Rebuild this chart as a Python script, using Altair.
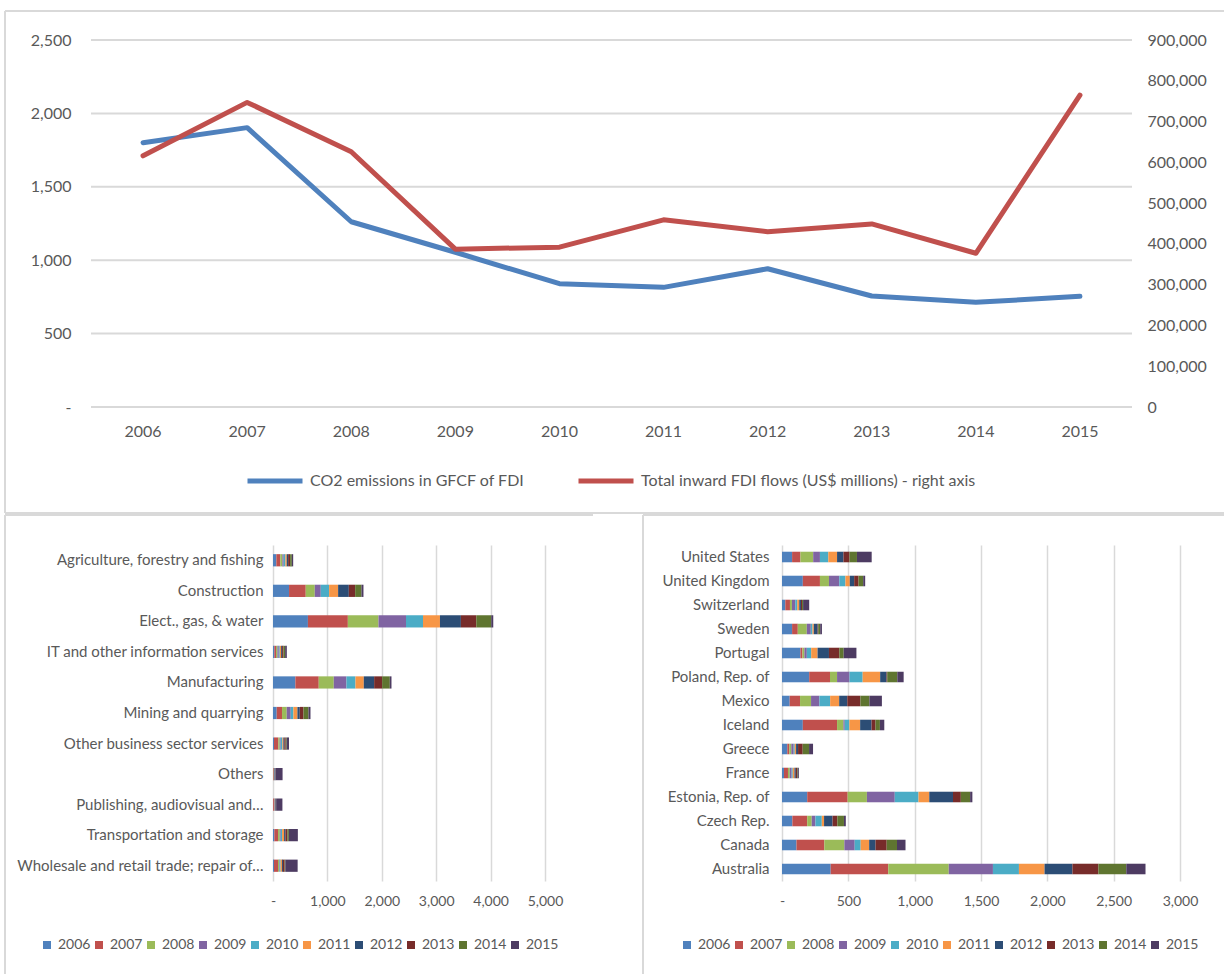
import altair as alt
import pandas as pd

# ---- data -------------------------------------------------------------
years = [2006, 2007, 2008, 2009, 2010, 2011, 2012, 2013, 2014, 2015]
co2_emissions = [1800, 1903, 1262, 1054, 840, 815, 942, 756, 713, 754]
fdi_inflows = [616000, 747000, 626000, 387000, 392000, 459000, 430000, 449000, 377000, 765000]
co2_ticks = [0, 500, 1000, 1500, 2000, 2500]
fdi_ticks = [0, 100000, 200000, 300000, 400000, 500000, 600000, 700000, 800000, 900000]

series_names = [
    "CO2 emissions in GFCF of FDI",
    "Total inward FDI flows (US$ millions) - right axis",
]
series_colors = ["#4F81BD", "#C0504D"]
year_colors = ["#4F81BD", "#C0504D", "#9BBB59", "#8064A2", "#4BACC6",
               "#F79646", "#2C4D75", "#772C2A", "#5F7530", "#4D3B62"]

sectors = [
    "Agriculture, forestry and fishing",
    "Construction",
    "Elect., gas, & water",
    "IT and other information services",
    "Manufacturing",
    "Mining and quarrying",
    "Other business sector services",
    "Others",
    "Publishing, audiovisual and\u2026",
    "Transportation and storage",
    "Wholesale and retail trade; repair of\u2026",
]
# one row per sector, one value per year 2006..2015
sector_values = [
    [61, 74, 37, 25, 31, 25, 25, 37, 31, 25],
    [295, 307, 166, 110, 153, 166, 197, 116, 116, 37],
    [642, 734, 563, 506, 312, 312, 385, 283, 275, 37],
    [25, 31, 25, 25, 18, 25, 18, 25, 31, 31],
    [411, 430, 276, 233, 166, 153, 190, 147, 141, 31],
    [68, 98, 86, 74, 49, 74, 43, 68, 92, 37],
    [18, 80, 25, 18, 31, 18, 18, 25, 18, 43],
    [3, 12, 3, 3, 3, 3, 12, 3, 3, 131],
    [3, 25, 3, 3, 3, 3, 12, 3, 3, 115],
    [25, 68, 31, 18, 25, 37, 25, 37, 25, 166],
    [18, 74, 18, 12, 18, 25, 18, 31, 12, 227],
]

countries = [
    "United States", "United Kingdom", "Switzerland", "Sweden", "Portugal",
    "Poland, Rep. of", "Mexico", "Iceland", "Greece", "France",
    "Estonia, Rep. of", "Czech Rep.", "Canada", "Australia",
]
country_values = [
    [76, 63, 96, 51, 63, 66, 48, 46, 56, 111],
    [157, 129, 68, 78, 46, 33, 33, 33, 35, 15],
    [25, 35, 15, 25, 15, 15, 13, 8, 8, 46],
    [76, 43, 68, 30, 13, 10, 28, 5, 15, 13],
    [139, 15, 15, 18, 33, 48, 86, 78, 33, 96],
    [205, 157, 53, 94, 99, 132, 48, 5, 76, 48],
    [58, 78, 83, 63, 81, 68, 61, 99, 68, 94],
    [157, 258, 48, 10, 35, 81, 86, 30, 33, 33],
    [40, 15, 15, 18, 8, 10, 15, 35, 48, 30],
    [15, 30, 13, 15, 8, 13, 10, 10, 5, 8],
    [190, 305, 145, 210, 179, 81, 179, 59, 70, 17],
    [78, 112, 34, 28, 48, 17, 64, 36, 50, 14],
    [109, 210, 151, 78, 45, 64, 48, 84, 78, 64],
    [367, 434, 456, 333, 196, 193, 210, 196, 210, 145],
]

# ---- styling ----------------------------------------------------------
FONT = "Lato"
TEXT = "#595959"
GRID = "#D9D9D9"
BORDER = "#D9D9D9"
year_labels = [str(y) for y in years]

co2_df = pd.DataFrame({"year": years, "value": co2_emissions, "series": series_names[0]})
fdi_df = pd.DataFrame({"year": years, "value": fdi_inflows, "series": series_names[1]})
grid_df = pd.DataFrame({"value": co2_ticks})
year_df = pd.DataFrame({"year": years, "label": year_labels})


def long_table(names, rows, key):
    recs = []
    for name, vals in zip(names, rows):
        for i, (yr, v) in enumerate(zip(year_labels, vals)):
            recs.append({key: name, "year": yr, "idx": i, "value": v})
    return pd.DataFrame(recs)


sector_df = long_table(sectors, sector_values, "sector")
country_df = long_table(countries, country_values, "country")
one_row = pd.DataFrame({"k": [0]})


def border(x, x2, y, y2):
    return alt.Chart(one_row).mark_rule(color=BORDER, strokeWidth=2).encode(
        x=alt.value(x), x2=alt.value(x2), y=alt.value(y), y2=alt.value(y2)
    )


zero_dash = "datum.value == 0 ? '-' : format(datum.value, ',')"

# ---- top: two lines on twin axes --------------------------------------
# The line panel shares its left origin with the sector panel below; its
# view starts SHIFT pixels right of the line plot's own left edge, and the
# year scale is extended back over that strip (one year per STEP pixels,
# each year centred in its slot).
SHIFT = 182
TOP_W, TOP_H = 1041, 367
VIEW_W = TOP_W - SHIFT
STEP = TOP_W / len(years)
year_domain = [years[0] - 0.5 + SHIFT / STEP, years[-1] + 0.5]
co2_scale = alt.Scale(domain=[0, 2500], nice=False)
year_scale = alt.Scale(domain=year_domain, nice=False, zero=False)

x_years = alt.X("year:Q", scale=year_scale, axis=None)
series_color = alt.Color(
    "series:N",
    scale=alt.Scale(domain=series_names, range=series_colors),
    legend=alt.Legend(
        title=None, orient="none", direction="horizontal", legendX=245 - 91 - SHIFT,
        legendY=411, symbolType="stroke", symbolSize=3025, symbolStrokeWidth=5,
        labelFontSize=16, labelOffset=5, columnPadding=43, labelLimit=600,
    ),
)

gridlines = alt.Chart(grid_df).mark_rule(color=GRID, strokeWidth=2).encode(
    y=alt.Y("value:Q", scale=co2_scale, axis=None),
    x=alt.value(-SHIFT),
    x2=alt.value(VIEW_W),
)

# category labels under the year positions
year_text = alt.Chart(year_df).mark_text(
    font=FONT, fontSize=16, color=TEXT, baseline="middle", align="center"
).encode(
    x=x_years,
    y=alt.value(TOP_H + 25),
    text="label:N",
)

co2_line = alt.Chart(co2_df).mark_line(strokeWidth=5, strokeCap="round", strokeJoin="round").encode(
    x=x_years,
    y=alt.Y(
        "value:Q",
        scale=co2_scale,
        axis=alt.Axis(
            title=None, orient="left", values=co2_ticks, offset=SHIFT,
            labelExpr="datum.value == 0 ? '-\u00a0\u00a0' : format(datum.value, ',')",
            labelPadding=20, labelFontSize=16, grid=False, ticks=False, domain=False,
        ),
    ),
    color=series_color,
)

fdi_line = alt.Chart(fdi_df).mark_line(strokeWidth=5, strokeCap="round", strokeJoin="round").encode(
    x=x_years,
    y=alt.Y(
        "value:Q",
        scale=alt.Scale(domain=[0, 900000], nice=False),
        axis=alt.Axis(
            title=None, orient="right", values=fdi_ticks,
            labelExpr="format(datum.value, ',')", labelPadding=15, labelFontSize=16,
            grid=False, ticks=False, domain=False,
        ),
    ),
    color=series_color,
)

top = alt.layer(
    border(-86 - SHIFT, 1133 - SHIFT, -29, -29),
    border(-86 - SHIFT, -86 - SHIFT, -29, 473),
    border(-86 - SHIFT, 1133 - SHIFT, 473, 473),
    gridlines,
    year_text,
    co2_line,
    fdi_line,
).resolve_scale(y="independent").properties(width=VIEW_W, height=TOP_H)

# ---- bottom: stacked bars by sector and by country --------------------
BAR_H = 336


def year_legend(x, y):
    return alt.Legend(
        title=None, orient="none", direction="horizontal", columns=10,
        legendX=x, legendY=y, symbolType="square", symbolSize=64,
        symbolStrokeWidth=0, labelFontSize=14, labelOffset=4, columnPadding=1,
    )


def stacked(df, key, cats, xmax, step, width, pad_inner, label_pad, lx, ly):
    return alt.Chart(df).mark_bar().encode(
        y=alt.Y(
            f"{key}:N", sort=cats,
            scale=alt.Scale(paddingInner=pad_inner, paddingOuter=pad_inner / 2),
            axis=alt.Axis(title=None, labelFontSize=15, labelPadding=label_pad,
                          labelLimit=400, ticks=False, domain=False, grid=False),
        ),
        x=alt.X(
            "value:Q", stack="zero",
            scale=alt.Scale(domain=[0, xmax], nice=False),
            axis=alt.Axis(title=None, values=list(range(0, xmax + 1, step)),
                          labelExpr=zero_dash, labelFontSize=14, labelPadding=13,
                          labelFlush=False, grid=True, gridColor=GRID, gridWidth=1.5,
                          ticks=False, domain=False),
        ),
        color=alt.Color("year:N", scale=alt.Scale(domain=year_labels, range=year_colors),
                        legend=year_legend(lx, ly)),
        order=alt.Order("idx:Q"),
    ).properties(width=width, height=BAR_H)


sector_bars = stacked(sector_df, "sector", sectors, 5000, 1000, 272, 0.6, 10, -233, 393)
country_bars = stacked(country_df, "country", countries, 3000, 500, 398, 0.56, 13, -102, 393)

left = alt.layer(
    border(-268, 320, -30, -30),
    border(-268, -268, -30, 429),
    sector_bars,
).properties(width=272, height=BAR_H)

right = alt.layer(
    border(-139, 442, -30, -30),
    border(-139, -139, -30, 429),
    country_bars,
).properties(width=398, height=BAR_H)

bottom = alt.concat(left, right, columns=2, spacing=48, align="none").resolve_scale(
    color="independent"
).resolve_legend(color="independent")

chart = alt.concat(top, bottom, columns=1, spacing=0, align="none").properties(
    padding={"left": 4, "top": 10, "right": 0, "bottom": 0},
    background="white",
).resolve_scale(color="independent").resolve_legend(
    color="independent"
).configure_view(stroke=None).configure_axis(
    labelFont=FONT, labelColor=TEXT
).configure_legend(labelFont=FONT, labelColor=TEXT)

chart.save("out.html", embed_options={"renderer": "svg", "actions": False})
